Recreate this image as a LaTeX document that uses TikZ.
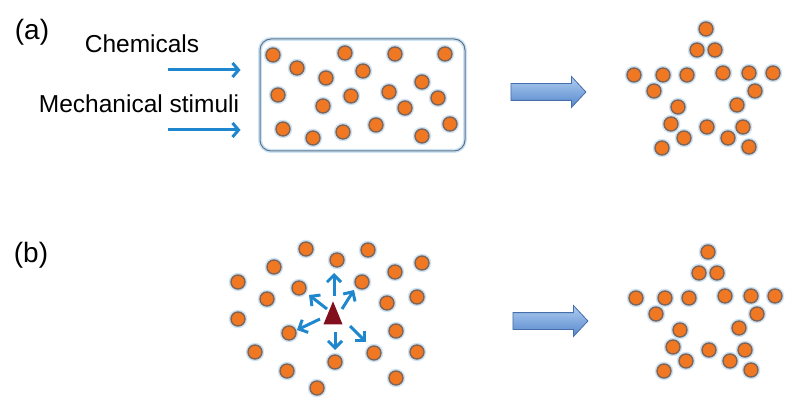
\documentclass[tikz,border=0pt]{standalone}
\usepackage{fontspec}
\setmainfont{Liberation Sans}
\usetikzlibrary{arrows.meta,shapes.arrows,shapes.geometric}

\definecolor{cellorange}{RGB}{240,120,35}
\definecolor{cellrim}{RGB}{130,100,85}
\definecolor{glowblue}{RGB}{205,228,246}
\definecolor{stimblue}{RGB}{30,135,205}
\definecolor{poolrim}{RGB}{95,115,135}
\definecolor{flowrim}{RGB}{70,110,170}
\definecolor{flowtop}{RGB}{175,205,240}
\definecolor{flowbot}{RGB}{85,135,205}
\definecolor{seedred}{RGB}{130,15,30}

\begin{document}
\begin{tikzpicture}[
    x=1pt, y=-1pt,
    font=\fontsize{24.5}{28}\selectfont,
    cell/.style={circle, draw=cellrim, line width=1.4pt, fill=cellorange, minimum size=14pt, inner sep=0pt,
        preaction={draw=glowblue, line width=4.5pt}},
    stim/.style={draw=stimblue, line width=3pt, -{Straight Barb[length=6pt, width=14pt]}},
    burst/.style={draw=stimblue, line width=3pt, -{Straight Barb[length=7pt, width=14pt]}},
    pool/.style={draw=poolrim, line width=1pt, rounded corners=11pt, minimum width=205pt, minimum height=112pt,
        preaction={draw=glowblue, line width=4pt}},
    flow/.style={single arrow, draw=flowrim, line width=0.8pt, top color=flowtop, bottom color=flowbot,
        minimum height=75pt, minimum width=30pt, single arrow head extend=7pt, single arrow tip angle=94,
        inner xsep=0pt, inner ysep=8pt},
    tag/.style={font=\fontsize{28}{32}\selectfont}
]
\useasboundingbox (0,0) rectangle (808,406);

% (a) stimuli on a disordered pool
\node[tag] (taga) at (32,32) {(a)};
\node[anchor=base] (chem) at (142,53) {Chemicals};
\node[anchor=base] (mech) at (139,113) {Mechanical stimuli};
\node[pool] (pool) at (362.5,95) {};
\coordinate (chemin) at (168,70);
\coordinate (mechin) at (168,130);
\draw[stim] (chemin) -- ([xshift=-19pt]pool.west |- chemin);
\draw[stim] (mechin) -- ([xshift=-19pt]pool.west |- mechin);
\foreach \x/\y [count=\i] in {273/55, 345/53, 395/54, 445/54, 297/68, 363/71, 326/78, 422/82,
    278/95, 351/96, 389/92, 438/98, 323/106, 405/108, 283/129, 313/138, 343/132, 376/125, 450/124, 422/136}
    \node[cell] (p\i) at (\x,\y) {};
\node[flow] (flowa) at (544.5,92) {};

% (b) seed in the middle
\node[tag] (tagb) at (31,255) {(b)};
\foreach \x/\y [count=\i] in {306/249, 368/250, 337/260, 274/267, 422/263, 395/272, 362/282, 238/282,
    299/288, 267/299, 387/303, 417/297, 238/319, 289/333, 396/331, 255/352, 374/353, 417/352,
    335/362, 287/371, 396/378, 317/388}
    \node[cell] (q\i) at (\x,\y) {};
\node[isosceles triangle, shape border rotate=90, isosceles triangle apex angle=45, fill=seedred,
    minimum height=23pt, inner sep=0pt] (seed) at (333,318) {};
\foreach \ax/\ay/\bx/\by in {1/-22/1/-45, 9/-9/21/-28, -6/-9/-24/-23, -13/1/-36/12, 2/14/2/32, 17/8/33/24}
    \draw[burst] ([shift={(\ax,\ay)}]seed.center) -- ([shift={(\bx,\by)}]seed.center);
\node[flow] (flowb) at (546.5,321) {};

% the star both rows end in
\foreach \r/\dx/\dy in {a/0/0, b/2/223}
    \foreach \x/\y [count=\i] in {706/29, 697/50, 715/50, 634/75, 663/75, 687/75, 723/73, 749/73, 773/73,
        654/91, 755/91, 678/107, 737/105, 671/124, 707/127, 743/127, 684/138, 728/138, 662/148, 749/147}
        \node[cell] (star\r\i) at (\x+\dx,\y+\dy) {};
\end{tikzpicture}
\end{document}
